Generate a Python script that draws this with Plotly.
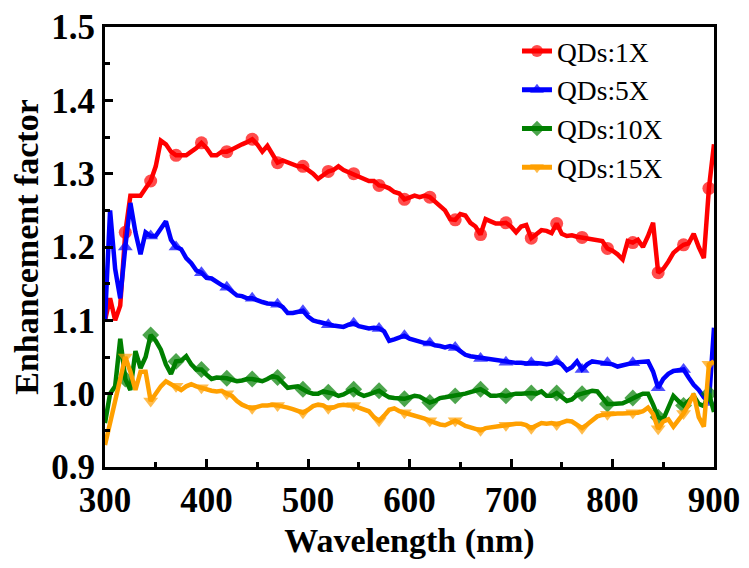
import plotly.graph_objects as go

wavelength = list(range(300, 905, 5))

qd_1x = [1.10, 1.13, 1.10, 1.12, 1.22, 1.27, 1.27, 1.27, 1.28, 1.29,
         1.31, 1.345, 1.34, 1.33, 1.325, 1.325, 1.325, 1.33, 1.335, 1.342,
         1.335, 1.325, 1.325, 1.33, 1.33, 1.333, 1.337, 1.34, 1.343, 1.347,
         1.34, 1.33, 1.338, 1.325, 1.315, 1.318, 1.315, 1.312, 1.31, 1.31,
         1.305, 1.30, 1.293, 1.298, 1.303, 1.305, 1.31, 1.305, 1.302, 1.30,
         1.297, 1.293, 1.29, 1.29, 1.284, 1.283, 1.28, 1.275, 1.273, 1.265,
         1.268, 1.27, 1.268, 1.27, 1.268, 1.262, 1.258, 1.25, 1.238, 1.237,
         1.245, 1.243, 1.233, 1.228, 1.217, 1.238, 1.235, 1.232, 1.232, 1.233,
         1.228, 1.22, 1.228, 1.23, 1.212, 1.218, 1.223, 1.222, 1.219, 1.232,
         1.218, 1.215, 1.216, 1.214, 1.213, 1.212, 1.21, 1.209, 1.208, 1.198,
         1.195, 1.19, 1.183, 1.208, 1.206, 1.21, 1.20, 1.215, 1.233, 1.165,
         1.17, 1.18, 1.192, 1.198, 1.203, 1.205, 1.218, 1.20, 1.185, 1.28,
         1.34]

qd_5x = [1.10, 1.25, 1.17, 1.13, 1.20, 1.26, 1.22, 1.19, 1.22, 1.215,
         1.215, 1.225, 1.235, 1.21, 1.20, 1.197, 1.185, 1.178, 1.168, 1.165,
         1.158, 1.157, 1.152, 1.148, 1.145, 1.14, 1.134, 1.133, 1.13, 1.13,
         1.127, 1.125, 1.123, 1.123, 1.122, 1.118, 1.11, 1.11, 1.112, 1.113,
         1.105, 1.10, 1.098, 1.096, 1.094, 1.093, 1.092, 1.091, 1.094, 1.096,
         1.092, 1.09, 1.089, 1.09, 1.089, 1.085, 1.072, 1.074, 1.077, 1.079,
         1.075, 1.073, 1.071, 1.069, 1.069, 1.066, 1.065, 1.063, 1.065, 1.063,
         1.058, 1.053, 1.051, 1.05, 1.048, 1.047, 1.046, 1.045, 1.044, 1.043,
         1.042, 1.042, 1.042, 1.041, 1.042, 1.042, 1.041, 1.04, 1.041, 1.044,
         1.04, 1.032, 1.036, 1.044, 1.033, 1.04, 1.044, 1.043, 1.042, 1.042,
         1.04, 1.037, 1.039, 1.041, 1.042, 1.043, 1.044, 1.044, 1.03, 1.008,
         1.02, 1.027, 1.031, 1.032, 1.033, 1.022, 1.012, 1.005, 0.995, 0.988,
         1.09]

qd_10x = [0.96, 1.00, 1.01, 1.075, 1.02, 1.005, 1.058, 1.035, 1.05, 1.08,
          1.072, 1.06, 1.04, 1.027, 1.044, 1.045, 1.051, 1.04, 1.033, 1.033,
          1.026, 1.02, 1.022, 1.022, 1.021, 1.019, 1.017, 1.018, 1.02, 1.02,
          1.018, 1.017, 1.02, 1.024, 1.022, 1.015, 1.008, 1.009, 1.01, 1.006,
          1.002, 1.0, 1.0, 1.003, 1.002, 1.0, 0.997, 0.999, 1.003, 1.006,
          1.0, 0.997, 0.999, 1.002, 1.004, 0.999, 0.995, 0.994, 0.994, 0.993,
          0.995, 0.997, 0.996, 0.992, 0.988, 0.99, 0.994, 0.995, 0.996, 0.997,
          0.998, 1.0, 1.002, 1.004, 1.006, 1.002, 0.997, 0.997, 0.998, 0.997,
          0.999, 1.0, 1.0, 1.001, 1.001, 1.0, 1.003, 0.997, 0.997, 1.001,
          0.995, 0.99, 0.992, 0.998, 1.0, 1.002, 1.004, 1.003, 0.994, 0.986,
          0.986, 0.986, 0.987, 0.99, 0.994, 0.997, 1.0, 1.0, 0.985, 0.968,
          0.965, 0.98, 0.997, 0.99, 0.984, 0.99, 0.997, 0.986, 0.983, 1.0,
          0.975]

qd_15x = [0.93, 0.96, 0.99, 1.02, 1.05, 1.03, 1.005, 1.03, 1.03, 0.99,
          1.0, 1.01, 1.017, 1.013, 1.01, 1.005, 1.01, 1.013, 1.01, 1.008,
          1.005, 1.004, 1.003, 1.004, 1.0, 0.997, 0.99, 0.985, 0.982, 0.98,
          0.982, 0.984, 0.984, 0.985, 0.984, 0.983, 0.981, 0.979, 0.976, 0.974,
          0.978, 0.983, 0.985, 0.984, 0.98, 0.981, 0.984, 0.985, 0.984, 0.984,
          0.981, 0.978, 0.976, 0.968, 0.963, 0.97, 0.978, 0.98, 0.976, 0.974,
          0.972, 0.971, 0.969, 0.966, 0.963, 0.96, 0.958, 0.957, 0.96, 0.963,
          0.96, 0.956, 0.954, 0.952, 0.95, 0.953, 0.954, 0.956, 0.957, 0.957,
          0.958, 0.959, 0.959, 0.957, 0.953, 0.957, 0.96, 0.959, 0.96, 0.958,
          0.96, 0.963, 0.962, 0.958, 0.953, 0.958, 0.964, 0.969, 0.971, 0.972,
          0.973, 0.973, 0.973, 0.973, 0.974, 0.974, 0.976, 0.981, 0.972, 0.952,
          0.962, 0.965, 0.955, 0.963, 0.973, 0.985, 1.0, 0.968, 0.955, 1.04,
          1.044]

series_names = ["QDs:1X", "QDs:5X", "QDs:10X", "QDs:15X"]
series_values = [qd_1x, qd_5x, qd_10x, qd_15x]
colors = ["#FF0000", "#0000FF", "#007F00", "#FFA000"]
symbols = ["circle", "triangle-up", "diamond", "triangle-down"]

x_ticks = [300, 400, 500, 600, 700, 800, 900]
y_ticks = [0.9, 1.0, 1.1, 1.2, 1.3, 1.4, 1.5]

# marker shown every 25 nm (every 5th sample), starting at 320 nm
marker_sizes = [13 if (w - 320) % 25 == 0 else 0 for w in wavelength]

fig = go.Figure()
for name, vals, col, sym in zip(series_names, series_values, colors, symbols):
    fig.add_trace(go.Scatter(
        x=wavelength, y=vals, name=name, mode="lines+markers",
        line=dict(color=col, width=4.5),
        marker=dict(symbol=sym, size=marker_sizes, color=col, line=dict(width=0)),
    ))

tick_font = dict(family="Liberation Serif", size=35, color="black", weight="bold")
title_font = dict(family="Liberation Serif", size=34, color="black", weight="bold")

fig.update_layout(
    width=749, height=568,
    margin=dict(l=97, r=43, t=19, b=109, autoexpand=False),
    paper_bgcolor="white", plot_bgcolor="white",
    showlegend=True,
    legend=dict(
        x=0.6765, y=1.001, xanchor="left", yanchor="top",
        bgcolor="rgba(0,0,0,0)", borderwidth=0,
        font=dict(family="Liberation Serif", size=27.5, color="black"),
        itemsizing="constant", tracegroupgap=0,
    ),
    xaxis=dict(
        range=[300, 900], tickvals=x_ticks, ticktext=[str(t) for t in x_ticks],
        showgrid=False, zeroline=False, automargin=False,
        ticklabeloverflow="allow",
        showline=True, linecolor="black", linewidth=3, mirror=True,
        ticks="inside", ticklen=8, tickwidth=2.5, tickcolor="black",
        minor=dict(ticks="inside", ticklen=5, tickwidth=2.5, tickcolor="black", dtick=50, tick0=300),
        tickfont=tick_font,
        title=dict(text="Wavelength (nm)", font=title_font, standoff=10),
    ),
    yaxis=dict(
        range=[0.9, 1.5], tickvals=y_ticks, ticktext=["%.1f" % t for t in y_ticks],
        showgrid=False, zeroline=False, automargin=False,
        ticklabeloverflow="allow",
        showline=True, linecolor="black", linewidth=3, mirror=True,
        ticks="inside", ticklen=8, tickwidth=2.5, tickcolor="black",
        minor=dict(ticks="inside", ticklen=5, tickwidth=2.5, tickcolor="black", dtick=0.05, tick0=0.9),
        tickfont=tick_font,
        title=dict(text="Enhancement factor", font=title_font, standoff=8),
    ),
)

fig.write_html("out.html")
